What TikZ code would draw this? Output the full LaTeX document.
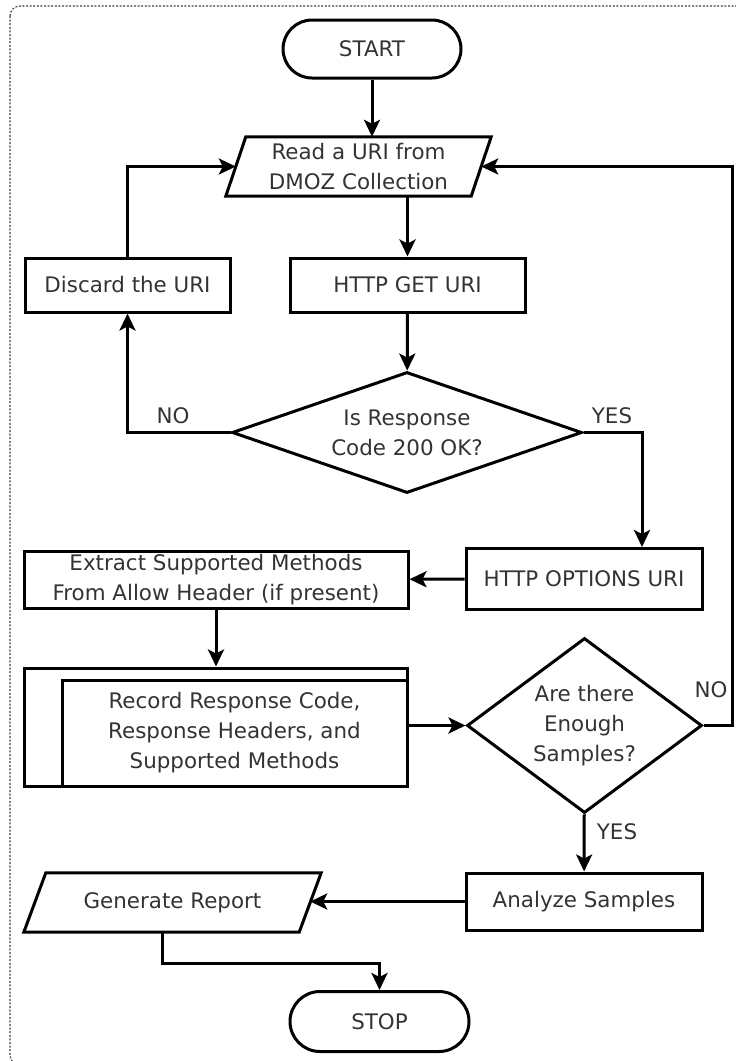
\documentclass[tikz,border=0pt]{standalone}
\usepackage{fontspec}
\setmainfont{DejaVu Sans}
\usetikzlibrary{arrows.meta,shapes.geometric}

\tikzset{
    base/.style={inner sep=0pt, align=center, text=black!80, font=\fontsize{21.4}{30}\selectfont},
    box/.style={base, draw, line width=3pt, rectangle},
    term/.style={box, rounded corners=29pt},
    io/.style={base},
    dec/.style={base, draw, line width=3pt, diamond},
    lbl/.style={base},
    arr/.style={line width=3pt, -{Stealth[length=17pt,width=16pt,inset=4pt]}}
}

\begin{document}
\begin{tikzpicture}[x=1pt,y=-1pt]
    \useasboundingbox (0,0) rectangle (736,1061);
    \draw[black!75, line width=1.1pt, dash pattern=on 2pt off 1.6pt, rounded corners=10pt] (10,6) rectangle (750,1065);

    \node[term, minimum width=178pt, minimum height=58pt] (start) at (372,49) {START};
    \node[io, minimum width=245pt, minimum height=59pt] (read) at (358.5,166.5) {Read a URI from\\DMOZ Collection};
    \draw[line width=3pt, line join=miter] ([xshift=10pt]read.north west) -- ([xshift=10pt]read.north east) -- ([xshift=-10pt]read.south east) -- ([xshift=-10pt]read.south west) -- cycle;

    \node[box, minimum width=205pt, minimum height=54pt] (discard) at (127.5,285) {Discard the URI};
    \node[box, minimum width=235pt, minimum height=54pt] (get) at (407.5,285) {HTTP GET URI};
    \node[dec, aspect=2.9, minimum width=350pt, minimum height=121pt] (resp) at (407,432.5) {Is Response\\Code 200 OK?};

    \node[box, minimum width=236pt, minimum height=61pt] (options) at (584,579) {HTTP OPTIONS URI};
    \node[box, minimum width=384pt, minimum height=57pt] (extract) at (216,579.5) {Extract Supported Methods\\From Allow Header (if present)};

    % predefined process: outer frame + inner text box
    \node[box, minimum width=383pt, minimum height=118pt] (rec) at (215.5,727) {};
    \node[box, minimum width=345pt, minimum height=106pt, anchor=south east] (rectext) at (rec.south east) {Record Response Code,\\Response Headers, and\\Supported Methods};

    \node[dec, aspect=1.34, minimum width=235pt, minimum height=175pt] (samples) at (584.5,725.5) {Are there\\Enough\\Samples?};
    \node[box, minimum width=236pt, minimum height=57pt] (analyze) at (584,901.5) {Analyze Samples};
    \node[io, minimum width=275pt, minimum height=59pt] (report) at (172.5,902.5) {Generate Report};
    \draw[line width=3pt, line join=miter] ([xshift=11pt]report.north west) -- ([xshift=11pt]report.north east) -- ([xshift=-11pt]report.south east) -- ([xshift=-11pt]report.south west) -- cycle;
    \node[term, minimum width=179pt, minimum height=60pt, rounded corners=30pt] (stop) at (379.5,1021.5) {STOP};

    \node[lbl] (no1) at (173,416) {NO};
    \node[lbl] (yes1) at (612,416) {YES};
    \node[lbl] (no2) at (711,690) {NO};
    \node[lbl] (yes2) at (617,832) {YES};

    \coordinate (yesbend) at (642,432.5);
    \coordinate (nobend) at (732,725.5);
    \coordinate (rbend) at (162,963);

    \draw[arr] (start) -- (start |- read.north);
    \draw[arr] (get |- read.south) -- (get);
    \draw[arr] (get) -- (resp);
    \draw[arr] (resp.west) -| (discard);
    \draw[arr] (discard) |- (read.west);
    \draw[arr] (resp.east) -- (yesbend) -- (yesbend |- options.north);
    \draw[arr] (options) -- (extract);
    \draw[arr] (extract) -- (extract |- rec.north);
    \draw[arr] (rec.east |- samples.west) -- (samples.west);
    \draw[arr] (samples.east) -- (nobend) |- (read.east);
    \draw[arr] (samples) -- (analyze);
    \draw[arr] (analyze) -- (report.east |- analyze);
    \draw[arr] (report.south -| rbend) |- (stop |- rbend) -- (stop);
\end{tikzpicture}
\end{document}
